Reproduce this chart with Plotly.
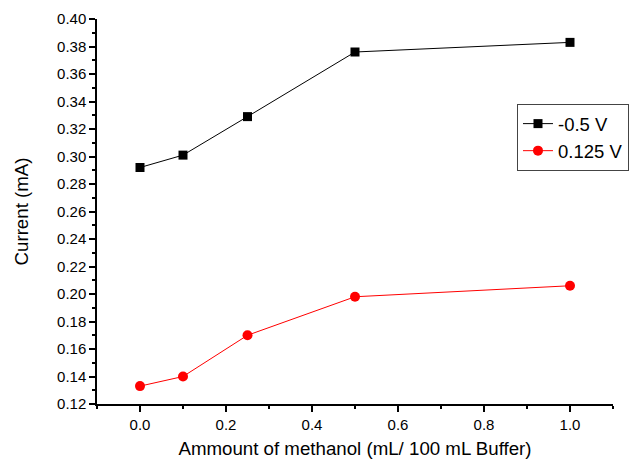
import plotly.graph_objects as go

# Methanol amount (mL per 100 mL buffer)
methanol = [0.0, 0.1, 0.25, 0.5, 1.0]
# Current readings (mA) at two potentials
current_neg05 = [0.292, 0.301, 0.329, 0.376, 0.383]
current_0125 = [0.133, 0.140, 0.170, 0.198, 0.206]

font_family = "Liberation Sans, Arial, sans-serif"

fig = go.Figure()
fig.add_trace(go.Scatter(
    x=methanol, y=current_neg05, name="-0.5 V",
    mode="lines+markers",
    line=dict(color="black", width=1),
    marker=dict(symbol="square", size=9, color="black"),
))
fig.add_trace(go.Scatter(
    x=methanol, y=current_0125, name="0.125 V",
    mode="lines+markers",
    line=dict(color="#ff0000", width=1),
    marker=dict(symbol="circle", size=10, color="#ff0000"),
))

axis_common = dict(
    showgrid=False, zeroline=False, showline=True, automargin=False,
    linecolor="black", linewidth=1.5,
    ticks="outside", ticklen=6, tickwidth=1.5, tickcolor="black",
    tickfont=dict(family=font_family, size=15, color="black"),
)

fig.update_layout(
    width=630, height=461,
    margin=dict(l=97, r=17, t=19, b=57, autoexpand=False),
    paper_bgcolor="white", plot_bgcolor="white",
    font=dict(family=font_family, color="black"),
    xaxis=dict(
        range=[-0.1, 1.1], tickmode="array",
        tickvals=[0.0, 0.2, 0.4, 0.6, 0.8, 1.0],
        ticktext=["0.0", "0.2", "0.4", "0.6", "0.8", "1.0"],
        minor=dict(tickvals=[-0.1, 0.1, 0.3, 0.5, 0.7, 0.9, 1.1],
                   ticks="outside", ticklen=3, tickwidth=1.5, tickcolor="black"),
        title=dict(text="Ammount of methanol (mL/ 100 mL Buffer)",
                   font=dict(family=font_family, size=18.7), standoff=10),
        **axis_common,
    ),
    yaxis=dict(
        range=[0.12, 0.40], tickmode="linear", tick0=0.12, dtick=0.02,
        tickformat=".2f",
        minor=dict(dtick=0.01, tick0=0.12, ticks="outside", ticklen=3,
                   tickwidth=1.5, tickcolor="black"),
        title=dict(text="Current (mA)",
                   font=dict(family=font_family, size=18.7), standoff=24),
        **axis_common,
    ),
    legend=dict(
        x=1.031, y=0.779, xanchor="right", yanchor="top",
        bgcolor="white", bordercolor="#444444", borderwidth=1,
        font=dict(family=font_family, size=18.5, color="black"),
        itemwidth=30, tracegroupgap=0,
    ),
    showlegend=True,
)

fig.write_html("out.html")
